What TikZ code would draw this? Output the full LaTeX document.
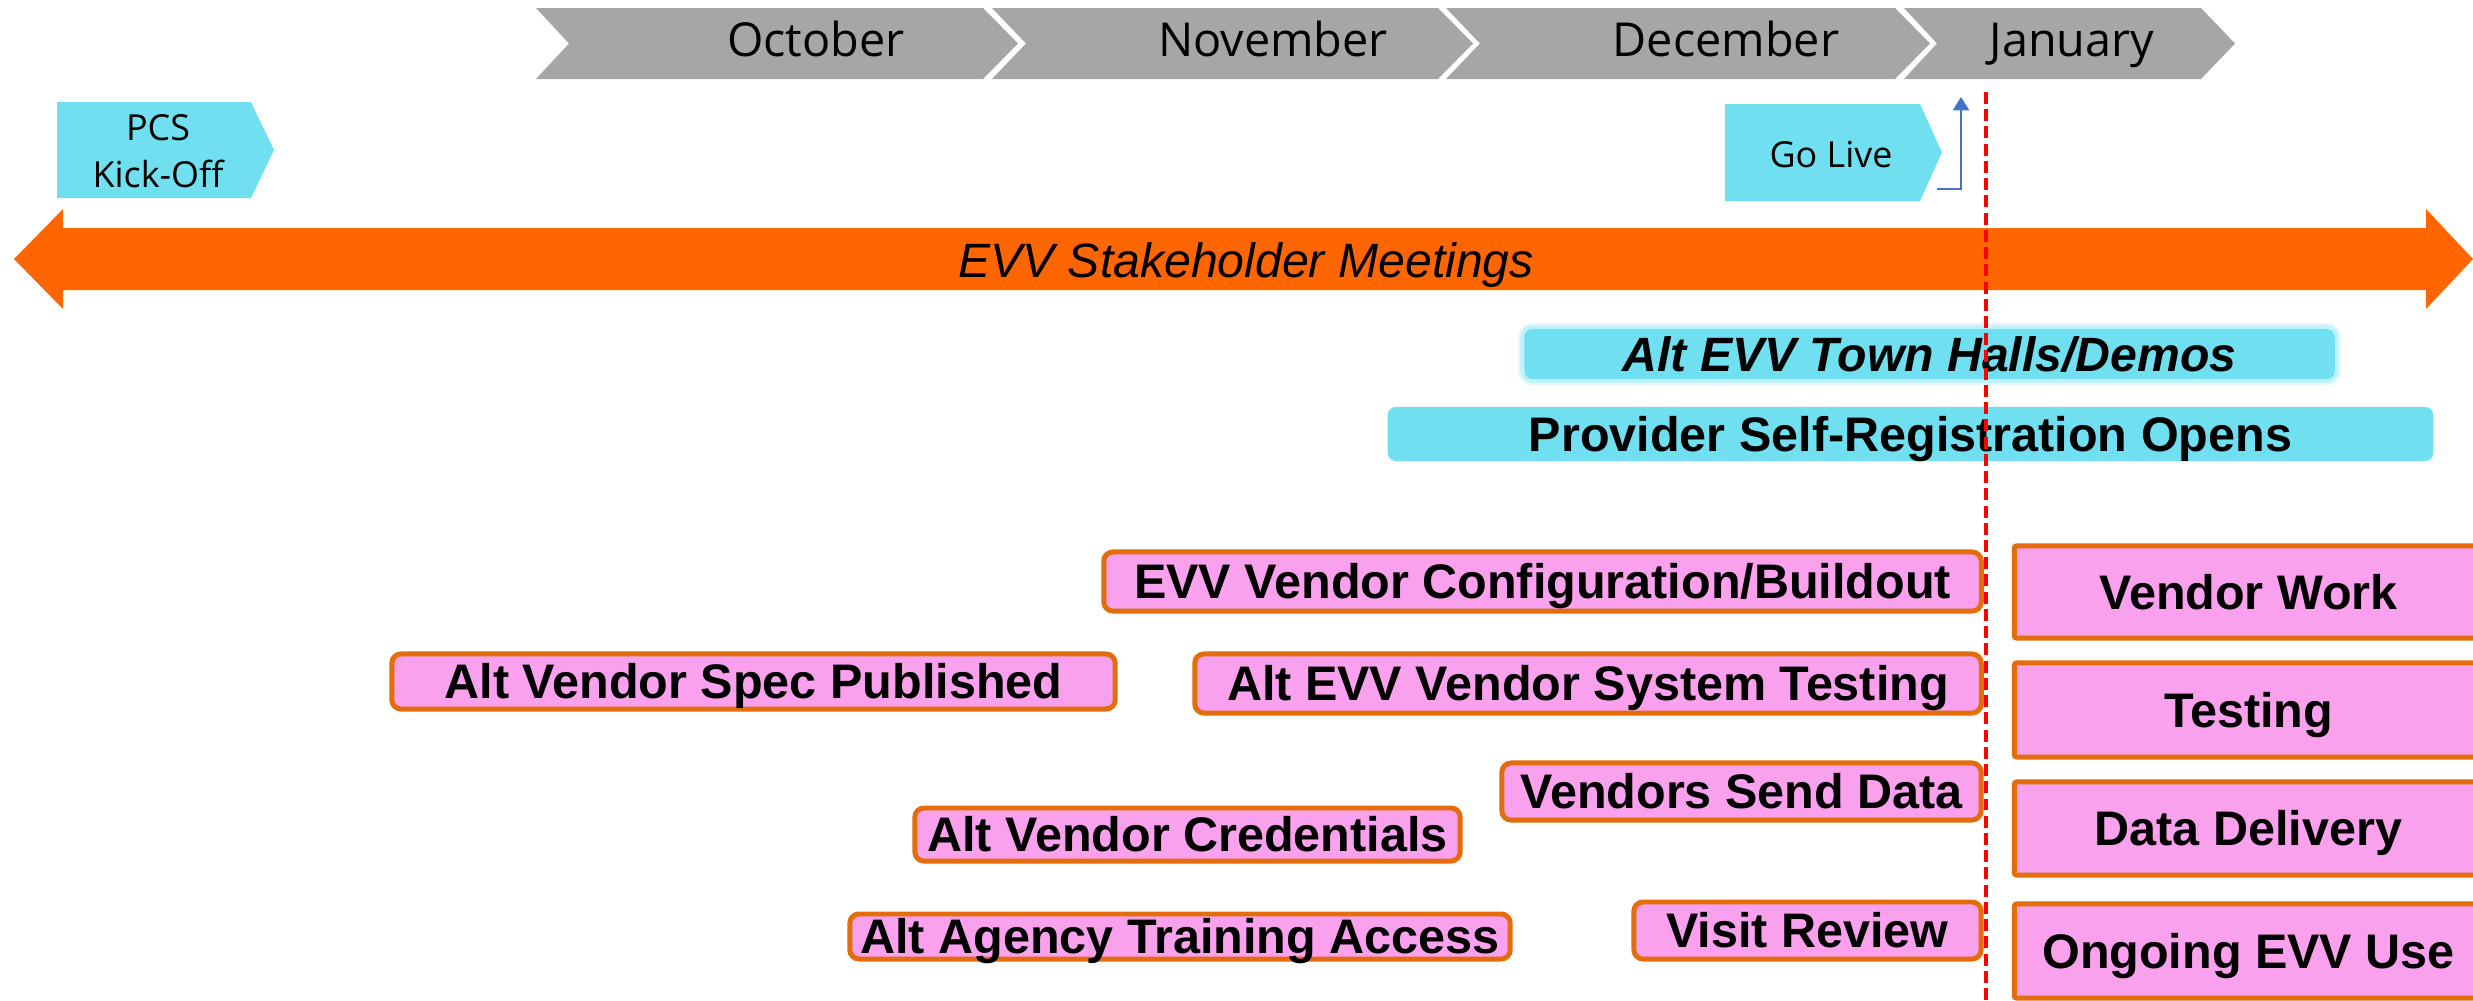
\documentclass[tikz,border=0pt]{standalone}
\usepackage{fontspec}
\setmainfont{Liberation Sans}
\newfontfamily\monthfont{Open Sans}
\usetikzlibrary{arrows.meta}
\definecolor{monthgray}{RGB}{166,166,166}
\definecolor{tagcyan}{RGB}{112,224,240}
\definecolor{meetorange}{RGB}{255,102,0}
\definecolor{boxorange}{RGB}{228,108,10}
\definecolor{boxpink}{RGB}{249,161,237}
\definecolor{liveblue}{RGB}{68,114,196}
\tikzset{
  month/.style={font=\monthfont\fontsize{13.3}{16}\selectfont, inner sep=0pt, text height=9.5pt, text depth=0pt},
  tag/.style={font=\monthfont\fontsize{10.2}{13.4}\selectfont, inner sep=0pt},
  cyanbar/.style={fill=tagcyan, rounded corners=2.3pt, inner sep=0pt,
    font=\bfseries\fontsize{13.8}{16}\selectfont, text height=9.9pt, text depth=0pt},
  glow/.style={preaction={draw=tagcyan, line width=3.6pt, opacity=0.18},
    preaction={draw=tagcyan, line width=2.2pt, opacity=0.3}},
  pinkbox/.style={draw=boxorange, fill=boxpink, line width=1.42pt, rounded corners=2.6pt, inner sep=0pt,
    font=\bfseries\fontsize{13.8}{16}\selectfont, text height=9.9pt, text depth=0pt},
  phasebox/.style={pinkbox, rounded corners=0.6pt, minimum width=4.68cm},
  livearrow/.style={draw=liveblue, line width=0.6pt, -{Triangle[length=3.8pt,width=4.6pt]}},
  cutover/.style={draw=red, line width=1.1pt, dash pattern=on 3.4pt off 1.5pt}
}
\begin{document}
\begin{tikzpicture}[x=0.01cm, y=-0.01cm]
	\useasboundingbox (0,0) rectangle (2473,1000);
	\clip (0,0) rectangle (2473,1000);
	
	% months
	\fill[monthgray] (536,8) -- (983,8) -- (1018,43.5) -- (983,79) -- (536,79) -- (569,43.5) -- cycle;
	\fill[monthgray] (992,8) -- (1438,8) -- (1473,43.5) -- (1438,79) -- (992,79) -- (1026,43.5) -- cycle;
	\fill[monthgray] (1446,8) -- (1895,8) -- (1930,43.5) -- (1895,79) -- (1446,79) -- (1480,43.5) -- cycle;
	\fill[monthgray] (1904,8) -- (2201,8) -- (2235,43.5) -- (2201,79) -- (1904,79) -- (1937,43.5) -- cycle;
	
	\node[month] (oct) at (816,40) {October};
	\node[month] (nov) at (1273,40) {November};
	\node[month] (dec) at (1726,40) {December};
	\node[month] (jan) at (2072,40) {January};
	
	% milestones
	\fill[tagcyan] (57,102) -- (251,102) -- (274,150) -- (251,198) -- (57,198) -- cycle;
	\node[tag, align=center] (kickoff) at (158,151) {PCS\\Kick-Off};
	
	\fill[tagcyan] (1725,104) -- (1920,104) -- (1942,152.5) -- (1920,201) -- (1725,201) -- cycle;
	\node[tag, text height=7.3pt, text depth=0pt] (golive) at (1831,154.5) {Go Live};
	
	\coordinate (livefoot) at (1937,189);
	\coordinate (livetip) at (1961,97);
	\draw[livearrow] (livefoot) -| (livetip);
	
	% stakeholder meetings
	\fill[meetorange] (14,259) -- (63,209) -- (63,228) -- (2426,228) -- (2426,209) -- (2473,259)
		-- (2426,309) -- (2426,290) -- (63,290) -- (63,309) -- cycle;
	\node[font=\itshape\fontsize{13.7}{16}\selectfont, inner sep=0pt, text height=9.8pt, text depth=0pt]
		(meetings) at (1246,260.5) {EVV Stakeholder Meetings};
	
	\node[cyanbar, glow, font=\bfseries\itshape\fontsize{13.7}{16}\selectfont, minimum width=8.10cm, minimum height=0.50cm]
		(townhalls) at (1929.5,354) {Alt EVV Town Halls/Demos};
	\node[cyanbar, minimum width=10.45cm, minimum height=0.54cm]
		(provider) at (1910.5,434) {Provider Self-Registration Opens};
	
	% tasks
	\node[pinkbox, minimum width=8.77cm, minimum height=0.59cm] (config) at (1542.5,581.5) {EVV Vendor Configuration/Buildout};
	\node[pinkbox, minimum width=7.23cm, minimum height=0.55cm] (spec) at (753.5,681.5) {Alt Vendor Spec Published};
	\node[pinkbox, minimum width=7.86cm, minimum height=0.59cm] (systest) at (1588,683.5) {Alt EVV Vendor System Testing};
	\node[pinkbox, minimum width=4.79cm, minimum height=0.57cm] (senddata) at (1741.5,791.5) {Vendors Send Data};
	\node[pinkbox, minimum width=5.45cm, minimum height=0.53cm] (creds) at (1187.5,834.5) {Alt Vendor Credentials};
	\node[pinkbox, minimum width=6.60cm, minimum height=0.45cm] (training) at (1180,936.5) {Alt Agency Training Access};
	\node[pinkbox, minimum width=3.47cm, minimum height=0.57cm] (visit) at (1807.5,930.5) {Visit Review};
	
	% phases
	\node[phasebox, minimum height=0.92cm] (work) at (2248.5,592) {Vendor Work};
	\node[phasebox, minimum height=0.94cm] (testing) at (2248.5,710) {Testing};
	\node[phasebox, minimum height=0.93cm] (delivery) at (2248.5,828.5) {Data Delivery};
	\node[phasebox, minimum height=0.94cm] (ongoing) at (2248.5,951) {Ongoing EVV Use};
	
	% go-live line
	\coordinate (cuttop) at (1986,92);
	\coordinate (cutbottom) at (1986,1000);
	\draw[cutover] (cuttop) -- (cutbottom);
	
\end{tikzpicture}
\end{document}
